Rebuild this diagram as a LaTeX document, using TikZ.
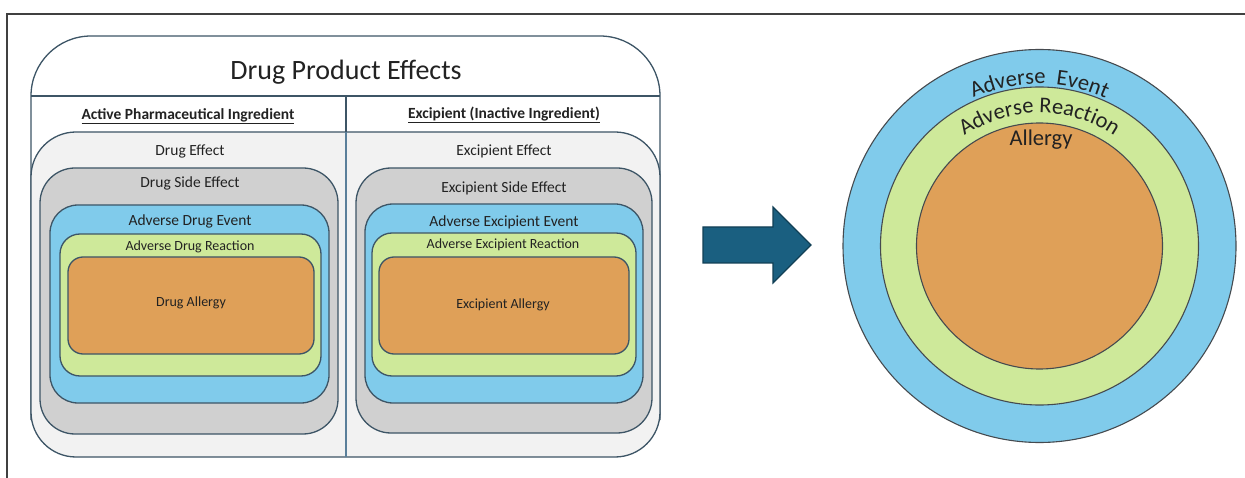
\documentclass[tikz,border=0pt]{standalone}
\usepackage{fontspec}
\setmainfont{Carlito}
\usetikzlibrary{decorations.text}
\definecolor{bordc}{HTML}{3D5566}
\definecolor{divc}{HTML}{5A7F9A}
\definecolor{framec}{HTML}{404040}
\definecolor{txtc}{HTML}{222222}
\definecolor{effc}{HTML}{F2F2F2}
\definecolor{sidec}{HTML}{D0D0D0}
\definecolor{bluec}{HTML}{80CBEB}
\definecolor{greenc}{HTML}{CEE99A}
\definecolor{orangec}{HTML}{DFA058}
\definecolor{arrowc}{HTML}{1A5F80}
\definecolor{arrowd}{HTML}{113F55}
\definecolor{circd}{HTML}{454A4F}
\tikzset{
  box/.style={draw=bordc, line width=1.3pt, inner sep=0pt, rounded corners=#1},
  lbl/.style={text=txtc, inner sep=0pt, anchor=center},
  ring/.style={circle, draw=circd, line width=1.1pt, inner sep=0pt},
}
\begin{document}
\begin{tikzpicture}[x=1pt,y=-1pt, font=\fontsize{15.5}{18}\selectfont]
\useasboundingbox (0,0) rectangle (1245,478);
% partial frame
\draw[framec, line width=1.2pt] (7,478) -- (7,14) -- (1245,14);

% outer box
\draw[bordc, line width=1.3pt, rounded corners=60pt, fill=white] (31,420) -- (31,36) -- (660,36) -- (660,420);
\node[lbl, font=\fontsize{28}{32}\selectfont] (title) at (346,72) {Drug Product Effects};
\draw[bordc, line width=1.3pt] (31,96) -- (660,96);

% drug effect background
\node[box=45pt, fill=effc, minimum width=629pt, minimum height=325pt] (eff) at (345.5,294.5) {};
\draw[divc, line width=1.3pt] (346,96) -- (346,457);
\draw[bordc, line width=1.3pt] (346,96) -- (346,132);

\node[lbl, font=\fontsize{15.5}{18}\selectfont\bfseries] (hapi) at (188,116) {\underline{Active Pharmaceutical Ingredient}};
\node[lbl, font=\fontsize{15.5}{18}\selectfont\bfseries] (hexc) at (504,115) {\underline{Excipient (Inactive Ingredient)}};

\node[lbl] (deff) at (190,151) {Drug Effect};
\node[lbl] (xeff) at (504,151) {Excipient Effect};

% left column
\node[box=35pt, fill=sidec, minimum width=298pt, minimum height=266pt] (dse) at (189,301) {};
\node[box=28pt, fill=bluec, minimum width=279pt, minimum height=198pt] (ade) at (189.5,304) {};
\node[box=20pt, fill=greenc, minimum width=261pt, minimum height=142pt] (adr) at (190.5,305) {};
\node[box=15pt, fill=orangec, minimum width=246pt, minimum height=97pt] (da) at (191,305.5) {};
\node[lbl] (tdse) at (190,183) {Drug Side Effect};
\node[lbl] (tade) at (190,221) {Adverse Drug Event};
\node[lbl, font=\fontsize{14}{16}\selectfont] (tadr) at (190,247) {Adverse Drug Reaction};
\node[lbl, font=\fontsize{14}{16}\selectfont] (tda) at (191,303) {Drug Allergy};

% right column
\node[box=35pt, fill=sidec, minimum width=296pt, minimum height=265pt] (xse) at (504,300.5) {};
\node[box=28pt, fill=bluec, minimum width=278pt, minimum height=199pt] (aee) at (504,303.5) {};
\node[box=20pt, fill=greenc, minimum width=264pt, minimum height=143pt] (aer) at (504,304.5) {};
\node[box=15pt, fill=orangec, minimum width=250pt, minimum height=97pt] (xa) at (504,305.5) {};
\node[lbl] (txse) at (504,188) {Excipient Side Effect};
\node[lbl] (taee) at (504,222) {Adverse Excipient Event};
\node[lbl, font=\fontsize{14}{16}\selectfont] (taer) at (503,245) {Adverse Excipient Reaction};
\node[lbl, font=\fontsize{14}{16}\selectfont] (txa) at (503,305) {Excipient Allergy};

% arrow
\draw[arrowd, fill=arrowc, line width=1.2pt, line join=miter]
  (703,227) -- (773,227) -- (773,207) -- (811,245) -- (773,283) -- (773,263) -- (703,263) -- cycle;

% circles
\node[ring, fill=bluec, minimum size=393pt] (ae) at (1039.5,246) {};
\node[ring, fill=greenc, minimum size=318pt] (ar) at (1039.5,246) {};
\node[ring, fill=orangec, minimum size=246pt] (al) at (1039.5,246) {};
\node[lbl, font=\fontsize{22.5}{26}\selectfont] (tal) at (1041,140) {Allergy};
\path[decorate, decoration={text along path, text align=center,
   text={|\fontsize{22.5}{26}\selectfont\color{txtc}|Adverse\ \ Event}}]
   ([shift={(ae.center)}]200:162) arc[start angle=200, end angle=340, radius=162];
\path[decorate, decoration={text along path, text align=center,
   text={|\fontsize{22.5}{26}\selectfont\color{txtc}|Adverse Reaction}}]
   ([shift={(ae.center)}]190:133) arc[start angle=190, end angle=350, radius=133];
\end{tikzpicture}
\end{document}
